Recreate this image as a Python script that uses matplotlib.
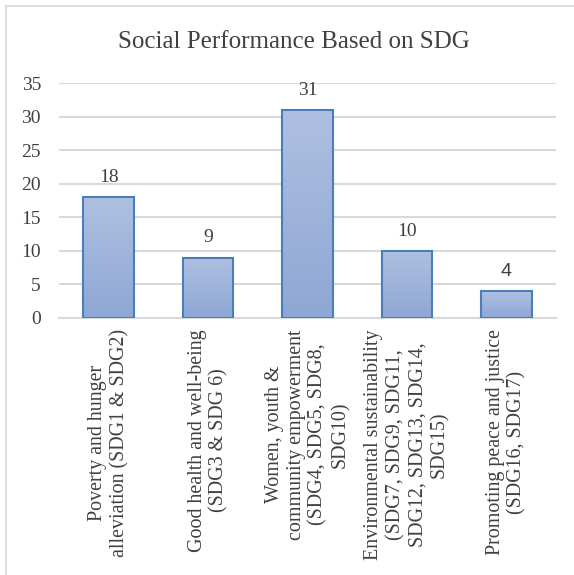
import matplotlib.pyplot as plt
import numpy as np
from matplotlib.colors import LinearSegmentedColormap
from matplotlib.lines import Line2D

categories = [
    "Poverty and hunger\nalleviation (SDG1 & SDG2)",
    "Good health and well-being\n(SDG3 & SDG 6)",
    "Women, youth &\ncommunity empowerment\n(SDG4, SDG5, SDG8,\nSDG10)",
    "Environmental sustainability\n(SDG7, SDG9, SDG11,\nSDG12, SDG13, SDG14,\nSDG15)",
    "Promoting peace and justice\n(SDG16, SDG17)",
]
values = [18, 9, 31, 10, 4]
yticks = [0, 5, 10, 15, 20, 25, 30, 35]

txt = "#404040"
plt.rcParams['font.family'] = ['Liberation Serif', 'DejaVu Serif']

fig = plt.figure(figsize=(5.74, 5.75), dpi=100)
ax = fig.add_axes([59/574, 1 - 318/575, (556 - 59)/574, (318 - 83)/575])

x = np.arange(len(values))
bars = ax.bar(x, values, width=0.51, color='none', edgecolor='#4A7DBF',
              linewidth=1.5, zorder=3)

# gradient fill like the Excel bars
grad_cmap = LinearSegmentedColormap.from_list('g', ['#8EA7D4', '#AEC0E1'])
grad = np.linspace(0, 1, 100).reshape(-1, 1)
for b in bars:
    x0, w, h = b.get_x(), b.get_width(), b.get_height()
    im = ax.imshow(grad, extent=[x0, x0 + w, 0, h], origin='lower',
                   aspect='auto', cmap=grad_cmap, zorder=2)
    im.set_clip_path(b)

for i, v in enumerate(values):
    fam = ['Liberation Sans'] if v == 4 else ['Liberation Serif']
    ax.annotate(str(v), (x[i], v), xytext=(0, 11), textcoords='offset points',
                ha='center', va='baseline', fontsize=14, color=txt, family=fam)

ax.set_xlim(-0.5, len(values) - 0.5)
ax.set_ylim(0, 35)
ax.set_yticks(yticks)
ax.set_xticks(x)
ax.set_xticklabels(categories, rotation=90, fontsize=14.4, color=txt,
                   ha='center', va='top', multialignment='center')
ax.tick_params(axis='y', length=0, pad=13, labelsize=14, labelcolor=txt)
ax.tick_params(axis='x', length=0, pad=8)
ax.grid(axis='y', color='#D9D9D9', linewidth=1.5, zorder=0)
ax.set_axisbelow(True)
for s in ['top', 'right', 'left']:
    ax.spines[s].set_visible(False)
ax.spines['bottom'].set_color('#D9D9D9')
ax.spines['bottom'].set_linewidth(1.5)

fig.text(294/574, 1 - 48/575, "Social Performance Based on SDG", ha='center',
         va='baseline', fontsize=18, color=txt)

# chart area border (left and top edges visible)
fig.add_artist(Line2D([5.5/574, 5.5/574], [0, 1 - 5.5/575], color='#D9D9D9', lw=1.2))
fig.add_artist(Line2D([5.5/574, 1], [1 - 5.5/575, 1 - 5.5/575], color='#D9D9D9', lw=1.2))

fig.savefig('out.png', dpi=100)
